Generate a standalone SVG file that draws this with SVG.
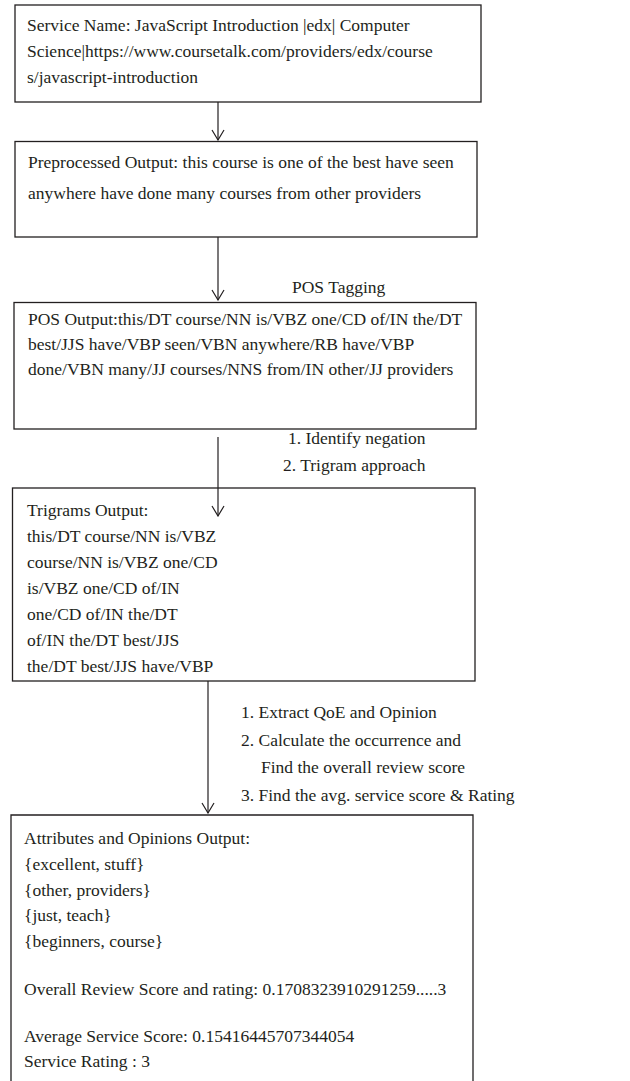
<svg xmlns="http://www.w3.org/2000/svg" width="630" height="1081" viewBox="0 0 630 1081">
<style>
.box{fill:#fff;stroke:#231f20;stroke-width:1.3}
.t{font-family:"Liberation Serif","Times New Roman",serif;font-size:17.5px;fill:#231f20}
.c{stroke:#231f20;stroke-width:1.2;fill:none}
</style>
<defs>
<marker id="ah" viewBox="0 0 12 14" refX="11" refY="7" markerWidth="12" markerHeight="14" markerUnits="userSpaceOnUse" orient="auto">
<path d="M1,1 L11,7 L1,13" fill="none" stroke="#231f20" stroke-width="1.2"/>
</marker>
</defs>
<rect width="630" height="1081" fill="#fff"/>
<g id="connectors">
<line class="c" x1="218" y1="102" x2="218" y2="140" marker-end="url(#ah)"/>
<line class="c" x1="218" y1="237" x2="218" y2="300" marker-end="url(#ah)"/>
<line class="c" x1="218" y1="437" x2="218" y2="516" marker-end="url(#ah)"/>
<line class="c" x1="208" y1="681" x2="208" y2="813" marker-end="url(#ah)"/>
<text class="t" x="292" y="293">POS Tagging</text>
<text class="t" x="288" y="444">1. Identify negation</text>
<text class="t" x="283" y="471">2. Trigram approach</text>
<text class="t" x="241" y="718">1. Extract QoE and Opinion</text>
<text class="t" x="241" y="745.5">2. Calculate the occurrence and</text>
<text class="t" x="261" y="773">Find the overall review score</text>
<text class="t" x="241" y="800.5">3. Find the avg. service score &amp; Rating</text>
</g>
<g id="service">
<rect class="box" x="15" y="5" width="466" height="97"/>
<text class="t" x="27" y="31">Service Name: JavaScript Introduction |edx| Computer</text>
<text class="t" x="27" y="57">Science|https://www.coursetalk.com/providers/edx/course</text>
<text class="t" x="27" y="83">s/javascript-introduction</text>
</g>
<g id="preprocessed">
<rect class="box" x="15" y="141.5" width="462" height="95.5"/>
<text class="t" x="28" y="168">Preprocessed Output: this course is one of the best have seen</text>
<text class="t" x="28" y="199">anywhere have done many courses from other providers</text>
</g>
<g id="pos">
<rect class="box" x="14" y="302.5" width="462" height="126.5"/>
<text class="t" x="28" y="325">POS Output:this/DT course/NN is/VBZ one/CD of/IN the/DT</text>
<text class="t" x="28" y="350">best/JJS have/VBP seen/VBN anywhere/RB have/VBP</text>
<text class="t" x="28" y="375">done/VBN many/JJ courses/NNS from/IN other/JJ providers</text>
</g>
<g id="trigrams">
<rect class="box" x="12.5" y="488" width="462.5" height="193" style="fill:none"/>
<text class="t" x="27" y="516">Trigrams Output:</text>
<text class="t" x="27" y="542">this/DT course/NN is/VBZ</text>
<text class="t" x="27" y="567.5">course/NN is/VBZ one/CD</text>
<text class="t" x="27" y="593.5">is/VBZ one/CD of/IN</text>
<text class="t" x="27" y="619.5">one/CD of/IN the/DT</text>
<text class="t" x="27" y="645.5">of/IN the/DT best/JJS</text>
<text class="t" x="27" y="671.5">the/DT best/JJS have/VBP</text>
</g>
<g id="attributes">
<path class="box" d="M11,1090 L11,815 L473,815 L473,1090"/>
<text class="t" x="24" y="844">Attributes and Opinions Output:</text>
<text class="t" x="24" y="870">{excellent, stuff}</text>
<text class="t" x="24" y="896">{other, providers}</text>
<text class="t" x="24" y="921">{just, teach}</text>
<text class="t" x="24" y="947">{beginners, course}</text>
<text class="t" x="24" y="995">Overall Review Score and rating: 0.1708323910291259.....3</text>
<text class="t" x="24" y="1042">Average Service Score: 0.15416445707344054</text>
<text class="t" x="24" y="1067">Service Rating : 3</text>
</g>
</svg>
